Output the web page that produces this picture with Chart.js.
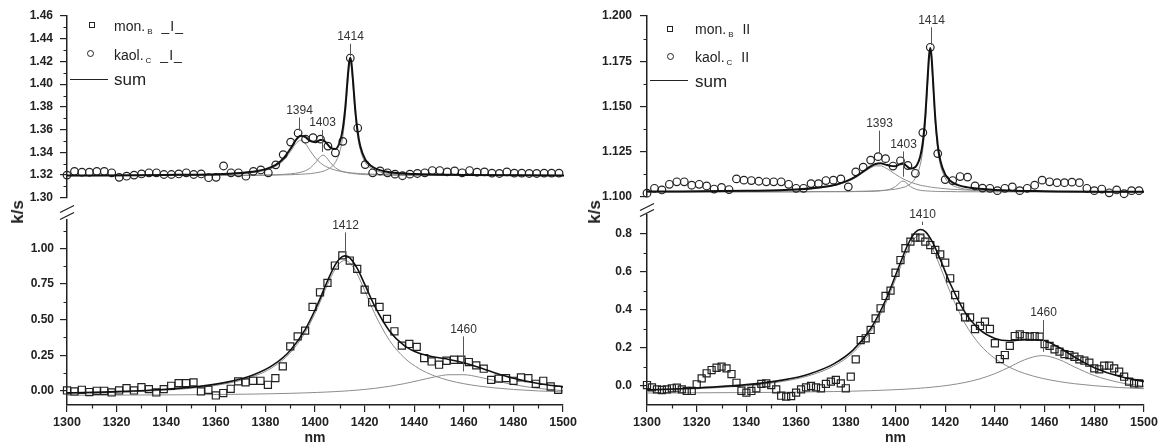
<!DOCTYPE html>
<html>
<head>
<meta charset="utf-8">
<title>k/s spectra</title>
<script src="https://cdn.jsdelivr.net/npm/chart.js@4.4.1/dist/chart.umd.min.js"></script>
<style>
  body { margin: 0; background: #fff; }
  #page { position: relative; width: 1161px; height: 445px; overflow: hidden; font-family: "Liberation Sans", Arial, sans-serif; color: #222; }
  canvas { position: absolute; }
  .leg { position: absolute; font-size: 14px; line-height: 16px; white-space: nowrap; }
  .leg.big { font-size: 17px; line-height: 19px; }
  .leg sub { font-size: 8px; vertical-align: -3px; margin: 0 9px 0 2px; }
  .leg .pol { letter-spacing: 1px; }
  .mk { position: absolute; box-sizing: border-box; border: 1.3px solid #222; width: 6px; height: 6px; }
  .mk.circ { border-radius: 50%; width: 7px; height: 7px; }
  .ln { position: absolute; height: 0; width: 38px; border-top: 1.6px solid #222; }
  .ytitle { position: absolute; font-weight: bold; font-size: 17px; transform: translate(-50%, -50%) rotate(-90deg); }
</style>
</head>
<body>
<div id="page">
  <canvas id="lt" width="580" height="212" style="left:0;top:0"></canvas>
  <canvas id="lb" width="580" height="250" style="left:0;top:195px"></canvas>
  <canvas id="rt" width="581" height="212" style="left:580px;top:0"></canvas>
  <canvas id="rb" width="581" height="250" style="left:580px;top:195px"></canvas>

  <!-- legends -->
  <div class="mk" style="left:89px;top:22px"></div>
  <div class="leg" style="left:114px;top:18px">mon.<sub>B</sub><span class="pol">_I_</span></div>
  <div class="mk circ" style="left:87px;top:50px"></div>
  <div class="leg" style="left:114px;top:47px">kaol.<sub>C</sub><span class="pol">_I_</span></div>
  <div class="ln" style="left:70px;top:79px"></div>
  <div class="leg big" style="left:114px;top:70px">sum</div>

  <div class="mk" style="left:667px;top:26px"></div>
  <div class="leg" style="left:695px;top:21px">mon.<sub>B</sub>II</div>
  <div class="mk circ" style="left:667px;top:53px"></div>
  <div class="leg" style="left:695px;top:49px">kaol.<sub>C</sub>II</div>
  <div class="ln" style="left:650px;top:80px"></div>
  <div class="leg big" style="left:695px;top:72px">sum</div>

  <div class="ytitle" style="left:18px;top:212px">k/s</div>
  <div class="ytitle" style="left:595px;top:212px">k/s</div>
</div>

<script>
// wavelength grids of the measured points (nm)
const x3 = [1300,1303,1306,1309,1312,1315,1318,1321,1324,1327,1330,1333,1336,1339,1342,1345,1348,1351,1354,1357,
  1360,1363,1366,1369,1372,1375,1378,1381,1384,1387,1390,1393,1396,1399,1402,1405,1408,1411,1414,1417,
  1420,1423,1426,1429,1432,1435,1438,1441,1444,1447,1450,1453,1456,1459,1462,1465,1468,1471,1474,1477,
  1480,1483,1486,1489,1492,1495,1498];
const x2 = [1300,1302,1304,1306,1308,1310,1312,1314,1316,1318,1320,1322,1324,1326,1328,1330,1332,1334,1336,1338,
  1340,1342,1344,1346,1348,1350,1352,1354,1356,1358,1360,1362,1364,1366,1368,1370,1372,1374,1376,1378,
  1380,1382,1384,1386,1388,1390,1392,1394,1396,1398,1400,1402,1404,1406,1408,1410,1412,1414,1416,1418,
  1420,1422,1424,1426,1428,1430,1432,1434,1436,1438,1440,1442,1444,1446,1448,1450,1452,1454,1456,1458,
  1460,1462,1464,1466,1468,1470,1472,1474,1476,1478,1480,1482,1484,1486,1488,1490,1492,1494,1496,1498];

// measured points
const ltKaol = [1.320,1.3233,1.3225,1.3225,1.3233,1.3233,1.322,1.318,1.319,1.320,1.321,1.322,1.322,1.3205,1.3205,1.321,1.322,1.3205,1.321,1.3177,
  1.318,1.328,1.322,1.322,1.319,1.3233,1.3245,1.322,1.329,1.338,1.349,1.357,1.3516,1.353,1.3516,1.3455,1.3396,1.3497,1.423,1.3614,
  1.3292,1.322,1.3236,1.322,1.3208,1.3194,1.3208,1.3214,1.322,1.324,1.324,1.3228,1.3236,1.322,1.324,1.3225,1.3228,1.3217,1.3214,1.3228,
  1.3217,1.3217,1.3214,1.3214,1.3217,1.3217,1.3217];
const lbMon = [0.002,-0.005,0.007,-0.009,0.000,0.000,-0.012,0.002,0.019,0.002,0.026,0.012,-0.012,0.012,0.035,0.054,0.054,0.059,-0.005,0.007,
  -0.033,-0.016,0.014,0.066,0.059,0.070,0.070,0.042,0.089,0.171,0.312,0.382,0.423,0.589,0.692,0.758,0.880,0.951,0.915,0.857,
  0.711,0.622,0.589,0.505,0.418,0.317,0.329,0.308,0.230,0.206,0.183,0.211,0.218,0.218,0.202,0.178,0.155,0.077,0.085,0.089,
  0.070,0.094,0.089,0.049,0.070,0.030,0.007];
const rtKaol = [1.102,1.1047,1.1038,1.1069,1.1083,1.1083,1.1064,1.1069,1.106,1.1043,1.1052,1.104,1.1099,1.1092,1.109,1.1086,1.1083,1.1083,1.1083,1.1069,
  1.1047,1.1047,1.1073,1.1073,1.109,1.1092,1.1099,1.1055,1.1138,1.1164,1.1203,1.1222,1.1211,1.117,1.1199,1.1173,1.113,1.1355,1.1827,1.1239,
  1.1095,1.109,1.1112,1.1109,1.106,1.1048,1.1047,1.1034,1.1047,1.1055,1.1034,1.1047,1.1064,1.1092,1.1083,1.1078,1.1078,1.1081,1.1078,1.1047,
  1.1034,1.1043,1.1022,1.1038,1.1017,1.1034,1.1034];
const rbMon = [0.005,-0.007,-0.018,-0.021,-0.018,-0.012,-0.009,-0.018,-0.026,-0.026,0.009,0.040,0.067,0.084,0.096,0.102,0.093,0.063,0.017,-0.025,
  -0.035,-0.026,-0.012,0.011,0.014,0.005,-0.018,-0.051,-0.056,-0.053,-0.035,-0.018,-0.007,0.000,-0.007,-0.012,0.011,0.023,0.032,0.014,
  -0.012,0.049,0.140,0.242,0.251,0.295,0.356,0.409,0.474,0.502,0.596,0.663,0.725,0.760,0.781,0.781,0.760,0.742,0.716,0.693,
  0.649,0.567,0.479,0.418,0.361,0.361,0.300,0.316,0.339,0.300,0.225,0.142,0.163,0.211,0.263,0.272,0.263,0.260,0.263,0.260,
  0.221,0.211,0.193,0.181,0.168,0.163,0.154,0.140,0.133,0.123,0.093,0.088,0.107,0.107,0.093,0.075,0.049,0.023,0.014,0.014];

// fitted curves, read at these wavelengths
const topFitX = [1300,1340,1360,1370,1376,1380,1384,1387,1390,1392,1394,1396,1398,1400,1402,1403,1404,1406,1408,1410,
  1411,1412,1413,1413.5,1414,1414.5,1415,1416,1417,1418,1420,1422,1425,1430,1440,1460,1500];
const ltSum = [1.3196,1.3201,1.3208,1.3219,1.3233,1.3252,1.3290,1.3344,1.3434,1.3505,1.3547,1.3533,1.3498,1.3489,1.3508,1.3508,1.3492,1.3442,1.3430,1.3507,
  1.3611,1.3798,1.4069,1.4186,1.4232,1.4180,1.4057,1.3775,1.3575,1.3455,1.3337,1.3287,1.3250,1.3225,1.3209,1.3201,1.3197];
const ltFit1394 = [1.3196,1.3199,1.3204,1.3213,1.3226,1.3243,1.3277,1.3326,1.3410,1.3474,1.3505,1.3474,1.3410,1.3350,1.3307,1.3290,1.3277,1.3257,1.3243,1.3233,
  1.3229,1.3226,1.3223,1.3222,1.3221,1.3220,1.3218,1.3217,1.3215,1.3213,1.3211,1.3209,1.3206,1.3203,1.3200,1.3198,1.3196];
const ltFit1403 = [1.3195,1.3196,1.3197,1.3198,1.3199,1.3200,1.3203,1.3206,1.3211,1.3216,1.3225,1.3239,1.3265,1.3310,1.3364,1.3375,1.3364,1.3310,1.3265,1.3239,
  1.3231,1.3225,1.3220,1.3218,1.3216,1.3214,1.3213,1.3211,1.3209,1.3207,1.3204,1.3203,1.3201,1.3199,1.3197,1.3196,1.3195];
const ltFit1414 = [1.3195,1.3196,1.3197,1.3198,1.3198,1.3199,1.3200,1.3202,1.3203,1.3205,1.3207,1.3210,1.3213,1.3219,1.3227,1.3233,1.3241,1.3265,1.3312,1.3425,
  1.3541,1.3737,1.4016,1.4136,1.4185,1.4136,1.4016,1.3737,1.3541,1.3425,1.3312,1.3265,1.3233,1.3213,1.3202,1.3197,1.3196];

const rtSum = [1.1029,1.1033,1.1040,1.1053,1.1067,1.1085,1.1112,1.1140,1.1168,1.1181,1.1185,1.1178,1.1171,1.1169,1.1182,1.1185,1.1176,1.1156,1.1165,1.1226,
  1.1303,1.1448,1.1673,1.1780,1.1823,1.1777,1.1668,1.1436,1.1287,1.1202,1.1124,1.1089,1.1066,1.1050,1.1038,1.1031,1.1028];
const rtFit1393 = [1.1029,1.1032,1.1039,1.1050,1.1064,1.1081,1.1107,1.1134,1.1160,1.1171,1.1171,1.1160,1.1143,1.1124,1.1107,1.1100,1.1093,1.1081,1.1072,1.1064,
  1.1061,1.1059,1.1056,1.1055,1.1054,1.1053,1.1052,1.1050,1.1049,1.1047,1.1045,1.1042,1.1040,1.1037,1.1033,1.1030,1.1028];
const rtFit1403 = [1.1027,1.1027,1.1027,1.1028,1.1028,1.1028,1.1029,1.1029,1.1030,1.1031,1.1033,1.1036,1.1043,1.1057,1.1081,1.1087,1.1081,1.1057,1.1043,1.1036,
  1.1034,1.1033,1.1032,1.1032,1.1031,1.1031,1.1031,1.1030,1.1030,1.1029,1.1029,1.1029,1.1028,1.1028,1.1027,1.1027,1.1027];
const rtFit1414 = [1.1027,1.1028,1.1028,1.1029,1.1029,1.1030,1.1030,1.1031,1.1032,1.1033,1.1035,1.1036,1.1039,1.1042,1.1048,1.1052,1.1056,1.1072,1.1104,1.1180,
  1.1262,1.1410,1.1639,1.1747,1.1792,1.1747,1.1639,1.1410,1.1262,1.1180,1.1104,1.1072,1.1052,1.1039,1.1032,1.1028,1.1027];

const lbFitX = [1300,1320,1340,1355,1365,1375,1383,1390,1396,1401,1405,1408,1410,1412,1414,1417,1420,1424,1430,1436,
  1442,1448,1454,1460,1466,1472,1480,1490,1500];
const lbSum = [-0.0149,-0.0059,0.0106,0.0344,0.0624,0.111,0.1798,0.2836,0.4295,0.6061,0.7714,0.8809,0.9294,0.9482,0.934,0.8597,0.749,0.5962,0.4205,0.3169,
  0.2629,0.237,0.2202,0.1972,0.1645,0.1288,0.0873,0.0508,0.0274];
const lbFit1412 = [-0.0183,-0.0104,0.0045,0.0265,0.0528,0.0992,0.1655,0.2665,0.4094,0.5828,0.7451,0.8519,0.8984,0.915,0.8984,0.82,0.7046,0.5443,0.3543,0.2319,
  0.155,0.1055,0.0725,0.0495,0.033,0.0209,0.0091,-0.0011,-0.0082];
const lbFit1460 = [-0.0316,-0.0305,-0.0289,-0.0271,-0.0254,-0.0232,-0.0207,-0.0179,-0.0149,-0.0117,-0.0087,-0.006,-0.004,-0.0018,0.0006,0.0047,0.0094,0.0169,0.0312,0.05,
  0.0729,0.0965,0.1127,0.1127,0.0965,0.0729,0.0432,0.0169,0.0006];

const rbFitX = [1300,1320,1340,1355,1365,1375,1383,1390,1396,1401,1405,1408,1410,1412,1415,1418,1422,1428,1434,1440,
  1446,1452,1459,1466,1472,1480,1490,1500];
const rbSum = [-0.0196,-0.0103,0.007,0.0322,0.0624,0.115,0.19,0.3014,0.4512,0.6156,0.7448,0.8089,0.8236,0.8129,0.7549,0.6664,0.5396,0.3874,0.2949,0.25,
  0.2383,0.244,0.2405,0.2012,0.1527,0.0966,0.0509,0.024];
const rbFit1410 = [-0.0227,-0.0144,0.0015,0.0251,0.0537,0.1043,0.177,0.2859,0.4329,0.5943,0.7207,0.7822,0.795,0.7822,0.7207,0.628,0.4944,0.3286,0.2169,0.1449,
  0.0977,0.0658,0.0405,0.023,0.0121,0.0015,-0.0079,-0.0144];
const rbFit1460 = [-0.0369,-0.0359,-0.0345,-0.0329,-0.0313,-0.0293,-0.027,-0.0245,-0.0217,-0.0187,-0.0159,-0.0133,-0.0114,-0.0093,-0.0058,-0.0016,0.0052,0.0188,0.038,0.0651,
  0.1006,0.1382,0.16,0.1382,0.1006,0.0551,0.0188,-0.0016];

// ticks
const xMajor = [1300,1320,1340,1360,1380,1400,1420,1440,1460,1480,1500];
const xMinor = [1310,1330,1350,1370,1390,1410,1430,1450,1470,1490];
const ltYMajor = [1.30,1.32,1.34,1.36,1.38,1.40,1.42,1.44,1.46];
const ltYMinor = [1.31,1.33,1.35,1.37,1.39,1.41,1.43,1.45];
const lbYMajor = [0,0.25,0.5,0.75,1.0];
const lbYMinor = [0.125,0.375,0.625,0.875,1.125];
const rtYMajor = [1.1,1.125,1.15,1.175,1.2];
const rtYMinor = [1.1125,1.1375,1.1625,1.1875];
const rbYMajor = [0,0.2,0.4,0.6,0.8];
const rbYMinor = [0.1,0.3,0.5,0.7];

// peak labels: text, wavelength, leader line from/to (k/s)
const ltPeakText = ['1394','1403','1414'];
const ltPeakNm = [1393.2,1402.6,1413.9];
const ltPeakTop = [1.3707,1.3597,1.4356];
const ltPeakEnd = [1.3589,1.3404,1.4246];
const lbPeakText = ['1412','1460'];
const lbPeakNm = [1411.9,1459.5];
const lbPeakTop = [1.113,0.382];
const lbPeakEnd = [0.958,0.136];
const rtPeakText = ['1393','1403','1414'];
const rtPeakNm = [1393.4,1403,1414.2];
const rtPeakTop = [1.1366,1.1251,1.1938];
const rtPeakEnd = [1.1236,1.1111,1.1839];
const rbPeakText = ['1410','1460'];
const rbPeakNm = [1410.5,1459.2];
const rbPeakTop = [0.865,0.347];
const rbPeakEnd = [0.847,0.18];

const ink = '#222';
const family = '"Liberation Sans", Arial, sans-serif';

function pts(xs, ys) {
  return xs.map((x, i) => ({ x: x, y: ys[i] }));
}

// minor ticks, axis break and peak labels
function makeExtras(o) {
  return {
    id: 'extras',
    afterDraw(chart) {
      const ctx = chart.ctx;
      const a = chart.chartArea;
      const xs = chart.scales.x;
      const ys = chart.scales.y;
      ctx.save();
      ctx.strokeStyle = ink;
      ctx.lineWidth = 1.2;
      ctx.beginPath();
      o.minorY.forEach(v => {
        const py = Math.round(ys.getPixelForValue(v)) + 0.5;
        ctx.moveTo(a.left - 3.5, py);
        ctx.lineTo(a.left, py);
      });
      if (o.showX) {
        o.minorX.forEach(v => {
          const px = Math.round(xs.getPixelForValue(v)) + 0.5;
          ctx.moveTo(px, a.bottom);
          ctx.lineTo(px, a.bottom + 3.5);
        });
      }
      ctx.stroke();

      if (o.breaks) {
        ctx.lineWidth = 1.3;
        ctx.beginPath();
        o.breaks.forEach(d => {
          const by = a.top - d;
          ctx.moveTo(a.left - 7, by + 3.5);
          ctx.lineTo(a.left + 7, by - 3.5);
        });
        ctx.stroke();
      }

      ctx.strokeStyle = '#555';
      ctx.lineWidth = 1;
      ctx.fillStyle = '#333';
      ctx.font = '12px ' + family;
      ctx.textAlign = 'center';
      ctx.textBaseline = 'bottom';
      o.peakText.forEach((t, i) => {
        const px = Math.round(xs.getPixelForValue(o.peakNm[i])) + 0.5;
        const y1 = ys.getPixelForValue(o.peakTop[i]);
        const y2 = ys.getPixelForValue(o.peakEnd[i]);
        ctx.beginPath();
        ctx.moveTo(px, y1);
        ctx.lineTo(px, y2);
        ctx.stroke();
        ctx.fillText(t, px, y1 - 1);
      });
      ctx.restore();
    }
  };
}

function buildChart(id, o) {
  const datasets = [
    { data: pts(o.fitX, o.sum), showLine: true, borderColor: '#111', borderWidth: o.sumWidth,
      pointRadius: 0, cubicInterpolationMode: 'monotone' },
    { data: pts(o.markX, o.markY), showLine: false, pointStyle: o.marker, pointRadius: o.markerR,
      borderColor: ink, borderWidth: 1.2, backgroundColor: 'rgba(0,0,0,0)', clip: false }
  ];
  o.comps.forEach(c => {
    datasets.push({ data: pts(o.fitX, c), showLine: true, borderColor: '#8c8c8c', borderWidth: 1,
      pointRadius: 0, cubicInterpolationMode: 'monotone' });
  });

  return new Chart(document.getElementById(id), {
    type: 'scatter',
    data: { datasets: datasets },
    options: {
      responsive: false,
      maintainAspectRatio: false,
      animation: false,
      events: [],
      devicePixelRatio: 1,
      layout: { padding: o.pad },
      plugins: { legend: { display: false }, tooltip: { enabled: false } },
      scales: {
        x: {
          type: 'linear', min: 1300, max: 1500, display: o.showX,
          afterBuildTicks: s => { s.ticks = xMajor.map(v => ({ value: v })); },
          afterFit: s => { if (o.showX) s.height = 40; },
          grid: { drawOnChartArea: false, tickLength: 7, color: ink, lineWidth: 1.2 },
          border: { color: ink, width: 1.5 },
          ticks: { font: { family: family, size: 12.5, weight: 'bold' }, color: ink, padding: 3,
                   maxRotation: 0, autoSkip: false, callback: v => String(v) },
          title: { display: true, text: 'nm', color: ink, padding: 0,
                   font: { family: family, size: 14, weight: 'bold', lineHeight: 1 } }
        },
        y: {
          type: 'linear', min: o.yMin, max: o.yMax,
          afterBuildTicks: s => { s.ticks = o.yMajor.map(v => ({ value: v })); },
          afterFit: s => { s.width = 67; },
          grid: { drawOnChartArea: false, tickLength: 7, color: ink, lineWidth: 1.2 },
          border: { color: ink, width: 1.5 },
          ticks: { font: { family: family, size: 12, weight: 'bold' }, color: ink, padding: o.tickPad,
                   autoSkip: false, callback: v => Number(v).toFixed(o.dec) }
        }
      }
    },
    plugins: [makeExtras(o)]
  });
}

buildChart('lt', {
  markX: x3, markY: ltKaol, marker: 'circle', markerR: 3.8,
  fitX: topFitX, sum: ltSum, comps: [ltFit1394, ltFit1403, ltFit1414], sumWidth: 2,
  yMin: 1.30, yMax: 1.46, yMajor: ltYMajor, minorY: ltYMinor, minorX: xMinor, dec: 2, tickPad: 7,
  showX: false, pad: { top: 16, bottom: 4, left: 0, right: 16 },
  peakText: ltPeakText, peakNm: ltPeakNm, peakTop: ltPeakTop, peakEnd: ltPeakEnd
});

buildChart('lb', {
  markX: x3, markY: lbMon, marker: 'rect', markerR: 5,
  fitX: lbFitX, sum: lbSum, comps: [lbFit1412, lbFit1460], sumWidth: 1.6,
  yMin: -0.1, yMax: 1.2, yMajor: lbYMajor, minorY: lbYMinor, minorX: xMinor, dec: 2, tickPad: 6,
  showX: true, pad: { top: 25, bottom: 0, left: 0, right: 16 }, breaks: [11, 4],
  peakText: lbPeakText, peakNm: lbPeakNm, peakTop: lbPeakTop, peakEnd: lbPeakEnd
});

buildChart('rt', {
  markX: x3, markY: rtKaol, marker: 'circle', markerR: 3.8,
  fitX: topFitX, sum: rtSum, comps: [rtFit1393, rtFit1403, rtFit1414], sumWidth: 2,
  yMin: 1.1, yMax: 1.2, yMajor: rtYMajor, minorY: rtYMinor, minorX: xMinor, dec: 3, tickPad: 8,
  showX: false, pad: { top: 16, bottom: 4, left: 0, right: 17 },
  peakText: rtPeakText, peakNm: rtPeakNm, peakTop: rtPeakTop, peakEnd: rtPeakEnd
});

buildChart('rb', {
  markX: x2, markY: rbMon, marker: 'rect', markerR: 5,
  fitX: rbFitX, sum: rbSum, comps: [rbFit1410, rbFit1460], sumWidth: 1.6,
  yMin: -0.1, yMax: 0.9, yMajor: rbYMajor, minorY: rbYMinor, minorX: xMinor, dec: 1, tickPad: 8,
  showX: true, pad: { top: 20, bottom: 0, left: 0, right: 17 }, breaks: [8, 2],
  peakText: rbPeakText, peakNm: rbPeakNm, peakTop: rbPeakTop, peakEnd: rbPeakEnd
});
</script>
</body>
</html>
